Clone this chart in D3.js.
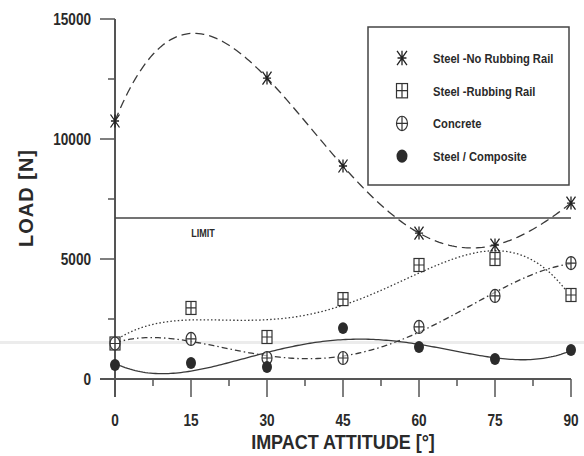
<!DOCTYPE html>
<html>
	<head>
		<script src="https://cdn.jsdelivr.net/npm/d3@7"></script>
		<style>
			body {
			  margin: 0;
			  background: #fff;
			}
			text {
			  font-family: "Liberation Sans", Arial, sans-serif;
			  font-weight: bold;
			  fill: #2a2a2a;
			}
		</style>
	</head>
	<body>
		<svg width="584" height="456"></svg>

		<script type="text/javascript">
			// impact attitude (deg)
			var angles = [0, 15, 30, 45, 60, 75, 90];
			var yTicks = [0, 5000, 10000, 15000];

			// loads in N
			var noRubAngles = [0, 30, 45, 60, 75, 90];
			var steelNoRub = [10750, 12540, 8875, 6080, 5580, 7330];
			var steelRub = [1480, 2960, 1750, 3330, 4750, 5000, 3500];
			var concrete = [1480, 1670, 875, 875, 2170, 3460, 4830];
			var composite = [580, 670, 500, 2120, 1330, 830, 1210];
			var limit = 6710;

			var legendNames = ['Steel -No Rubbing Rail', 'Steel -Rubbing Rail', 'Concrete', 'Steel / Composite'];

			var series = [
				{name: legendNames[0], xs: noRubAngles, ys: steelNoRub, deg: 5, sym: 'star', dash: '9,5'},
				{name: legendNames[1], xs: angles, ys: steelRub, deg: 4, sym: 'square', dash: '1.5,2.2'},
				{name: legendNames[2], xs: angles, ys: concrete, deg: 4, sym: 'circle', dash: '6,3,1.5,3'},
				{name: legendNames[3], xs: angles, ys: composite, deg: 4, sym: 'dot', dash: null}
			];

			var svg = d3.select('svg');
			var ink = '#3a3a3a';

			var x = d3.scaleLinear().domain([0, 90]).range([115, 571]);
			var y = d3.scaleLinear().domain([0, 15000]).range([379, 19]);

			// narrow text: no condensed face installed, so squeeze horizontally
			function label(g, tx, ty, str, size, sx, anchor) {
				return g.append('text')
					.attr('transform', 'translate(' + tx + ',' + ty + ') scale(' + sx + ',1)')
					.attr('text-anchor', anchor || 'start')
					.attr('font-size', size)
					.text(str);
			}

			// least squares polynomial fit, x normalised to 0..1
			function polyFit(xs, ys, deg) {
				var n = deg + 1;
				var A = [], b = [];
				for (var i = 0; i < n; i++) {
					A.push(new Array(n).fill(0));
					b.push(0);
				}
				xs.forEach(function(xv, k) {
					var t = xv / 90;
					for (var i = 0; i < n; i++) {
						for (var j = 0; j < n; j++) A[i][j] += Math.pow(t, i + j);
						b[i] += Math.pow(t, i) * ys[k];
					}
				});
				for (var c = 0; c < n; c++) {
					var p = c;
					for (var r = c + 1; r < n; r++) if (Math.abs(A[r][c]) > Math.abs(A[p][c])) p = r;
					var tmp = A[c]; A[c] = A[p]; A[p] = tmp;
					var tb = b[c]; b[c] = b[p]; b[p] = tb;
					for (var r = c + 1; r < n; r++) {
						var f = A[r][c] / A[c][c];
						for (var j = c; j < n; j++) A[r][j] -= f * A[c][j];
						b[r] -= f * b[c];
					}
				}
				var coef = new Array(n).fill(0);
				for (var i = n - 1; i >= 0; i--) {
					var s = b[i];
					for (var j = i + 1; j < n; j++) s -= A[i][j] * coef[j];
					coef[i] = s / A[i][i];
				}
				return function(xv) {
					var t = xv / 90, v = 0;
					for (var i = n - 1; i >= 0; i--) v = v * t + coef[i];
					return v;
				};
			}

			// faint scanner streak across the page
			svg.append('rect')
				.attr('x', 0).attr('y', 341).attr('width', 584).attr('height', 3)
				.attr('fill', '#ececec');

			// axes
			svg.append('line').attr('x1', 115).attr('x2', 115).attr('y1', y(15000)).attr('y2', 397)
				.attr('stroke', '#555').attr('stroke-width', 2);
			svg.append('line').attr('x1', 100).attr('x2', 571).attr('y1', y(0)).attr('y2', y(0))
				.attr('stroke', '#555').attr('stroke-width', 2);

			svg.selectAll('.ytick').data(d3.range(0, 15001, 2500)).enter().append('line')
				.attr('x1', function(d) { return d % 5000 === 0 ? 100 : 108; })
				.attr('x2', 115)
				.attr('y1', y).attr('y2', y)
				.attr('stroke', '#555').attr('stroke-width', 1.5);

			yTicks.forEach(function(d) {
				label(svg, 91, y(d) + 6, d, 17, 0.8, 'end');
			});

			svg.selectAll('.xtick').data(d3.range(0, 91, 7.5)).enter().append('line')
				.attr('x1', x).attr('x2', x)
				.attr('y1', y(0))
				.attr('y2', function(d) { return d % 15 === 0 ? 397 : 386; })
				.attr('stroke', '#555').attr('stroke-width', 1.5);

			angles.forEach(function(d) {
				label(svg, x(d), 426, d, 16, 0.85, 'middle');
			});

			label(svg, 343, 449, 'IMPACT ATTITUDE [°]', 20, 0.9, 'middle');

			svg.append('text')
				.attr('transform', 'translate(33,198) rotate(-90)')
				.attr('text-anchor', 'middle')
				.attr('font-size', 20)
				.attr('letter-spacing', 1)
				.text('LOAD [N]');

			// limit line
			svg.append('line')
				.attr('x1', 115).attr('x2', 571)
				.attr('y1', y(limit)).attr('y2', y(limit))
				.attr('stroke', '#444').attr('stroke-width', 1.6);
			label(svg, 203, 237, 'LIMIT', 10, 0.9, 'middle');

			// fitted curves
			var line = d3.line()
				.x(function(d) { return x(d[0]); })
				.y(function(d) { return y(d[1]); });

			series.forEach(function(s) {
				var f = polyFit(s.xs, s.ys, s.deg);
				var pts = d3.range(0, 90.01, 0.5).map(function(a) { return [a, f(a)]; });
				svg.append('path')
					.attr('d', line(pts))
					.attr('fill', 'none')
					.attr('stroke', ink)
					.attr('stroke-width', 1.3)
					.attr('stroke-dasharray', s.dash);
			});

			// symbol drawing
			function drawSymbol(g, sym, cx, cy, sc) {
				var w = 5 * sc, h = 6.5 * sc;
				if (sym === 'star') {
					w = 4.5 * sc;
					g.append('path')
						.attr('d', 'M' + cx + ',' + (cy - h) + 'V' + (cy + h) +
							'M' + (cx - w) + ',' + (cy - h) + 'L' + (cx + w) + ',' + (cy + h) +
							'M' + (cx + w) + ',' + (cy - h) + 'L' + (cx - w) + ',' + (cy + h) +
							'M' + (cx - w * 0.9) + ',' + cy + 'H' + (cx + w * 0.9))
						.attr('stroke', '#222').attr('stroke-width', 1.3).attr('fill', 'none');
				} else if (sym === 'square') {
					g.append('rect').attr('x', cx - w).attr('y', cy - h).attr('width', 2 * w).attr('height', 2 * h)
						.attr('fill', '#fff').attr('stroke', '#333').attr('stroke-width', 1.2);
					g.append('path').attr('d', 'M' + cx + ',' + (cy - h) + 'V' + (cy + h) + 'M' + (cx - w) + ',' + cy + 'H' + (cx + w))
						.attr('stroke', '#333').attr('stroke-width', 1.2);
				} else if (sym === 'circle') {
					g.append('ellipse').attr('cx', cx).attr('cy', cy).attr('rx', w).attr('ry', h)
						.attr('fill', '#fff').attr('fill-opacity', 0.6).attr('stroke', '#333').attr('stroke-width', 1.2);
					g.append('path').attr('d', 'M' + cx + ',' + (cy - h) + 'V' + (cy + h) + 'M' + (cx - w) + ',' + cy + 'H' + (cx + w))
						.attr('stroke', '#333').attr('stroke-width', 1.2);
				} else {
					g.append('ellipse').attr('cx', cx).attr('cy', cy).attr('rx', w).attr('ry', h * 0.92)
						.attr('fill', '#2b2b2b');
				}
			}

			var marks = svg.append('g');
			series.forEach(function(s) {
				s.xs.forEach(function(a, i) {
					drawSymbol(marks, s.sym, x(a), y(s.ys[i]), 1);
				});
			});

			// legend
			var leg = svg.append('g');
			leg.append('rect')
				.attr('x', 368).attr('y', 27).attr('width', 201).attr('height', 158)
				.attr('fill', '#fff').attr('stroke', '#444').attr('stroke-width', 1.5);
			series.forEach(function(s, i) {
				var ly = 58 + i * 32.7;
				drawSymbol(leg, s.sym, 402, ly, 1.1);
				label(leg, 433, ly + 5, s.name, 13, 0.86);
			});
		</script>
	</body>
</html>
